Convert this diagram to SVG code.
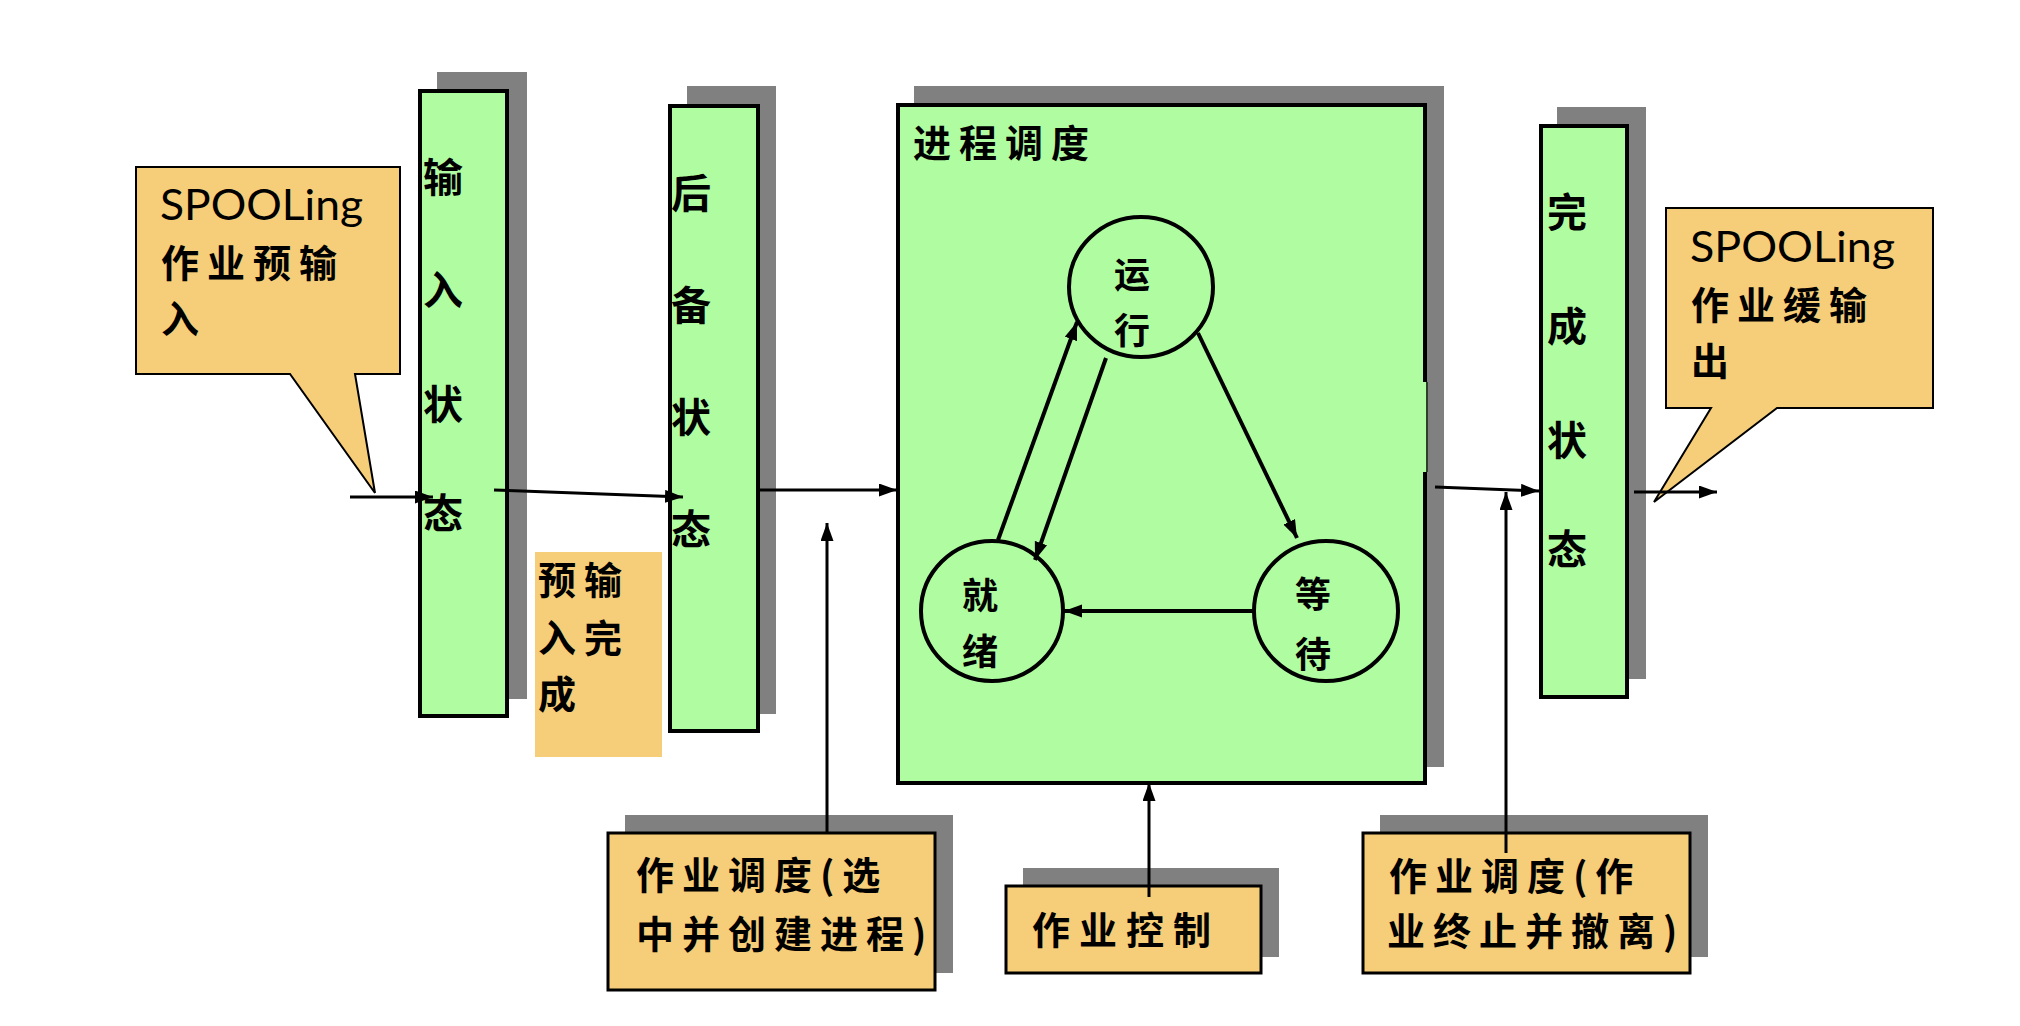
<svg xmlns="http://www.w3.org/2000/svg" width="2020" height="1026" viewBox="0 0 2020 1026">
<style>
.shadow{fill:#808080}
.state{fill:#B0FCA0;stroke:#000;stroke-width:4}
.note{fill:#F6CD78;stroke:#000;stroke-width:3}
.callout{fill:#F6CD78;stroke:#000;stroke-width:2}
.circ{fill:none;stroke:#000;stroke-width:4}
.cjk{font-family:'Noto Sans CJK SC','Noto Sans CJK JP',sans-serif;font-weight:bold;fill:#000}
.v{font-size:40px}
.h{font-size:38px;letter-spacing:8px}
.c{font-size:36px;text-anchor:middle}
.lat{font-family:Lato,'Open Sans',sans-serif;font-size:43px;fill:#000}
.conn{stroke:#000;stroke-width:3;fill:none;marker-end:url(#ah)}
.conn4{stroke:#000;stroke-width:4;fill:none;marker-end:url(#ah)}
</style>
<defs>
<marker id="ah" markerUnits="userSpaceOnUse" markerWidth="20" markerHeight="14" refX="18" refY="6.5" orient="auto">
<path d="M0,0 L18,6.5 L0,13 Z" fill="#000"/>
</marker>
</defs>
<rect width="2020" height="1026" fill="#fff"/>

<g id="callout-in">
<path class="callout" d="M136,167 H400 V374 H355 L375,493 L290,374 H136 Z"/>
<text class="lat" x="160" y="220" textLength="203" lengthAdjust="spacingAndGlyphs">SPOOLing</text>
<text class="cjk h" x="161" y="277">作业预输</text>
<text class="cjk h" x="161" y="333">入</text>
</g>

<g id="input-state">
<rect class="shadow" x="437" y="72" width="90" height="627"/>
<rect class="state" x="420" y="91" width="87" height="625"/>
<text class="cjk v" x="423" y="192">输</text>
<text class="cjk v" x="423" y="305">入</text>
<text class="cjk v" x="423" y="419">状</text>
<text class="cjk v" x="423" y="528">态</text>
</g>

<g id="pre-input-done">
<rect x="535" y="552" width="127" height="205" fill="#F6CD78"/>
<text class="cjk h" x="538" y="594">预输</text>
<text class="cjk h" x="538" y="652">入完</text>
<text class="cjk h" x="538" y="708">成</text>
</g>

<g id="standby-state">
<rect class="shadow" x="687" y="86" width="89" height="628"/>
<rect class="state" x="670" y="106" width="88" height="625"/>
<text class="cjk v" x="671" y="208">后</text>
<text class="cjk v" x="671" y="320">备</text>
<text class="cjk v" x="671" y="432">状</text>
<text class="cjk v" x="671" y="544">态</text>
</g>

<g id="process-scheduling">
<rect class="shadow" x="914" y="86" width="530" height="681"/>
<rect class="state" x="898" y="105" width="527" height="678"/>
<rect x="1421" y="382" width="7" height="90" fill="#B0FCA0"/>
<line x1="1427" y1="382" x2="1427" y2="472" stroke="#000" stroke-width="1.5"/>
<text class="cjk h" x="913" y="157">进程调度</text>
</g>

<g id="running">
<ellipse class="circ" cx="1141" cy="287" rx="72" ry="70"/>
<text class="cjk c" x="1132" y="288">运</text>
<text class="cjk c" x="1132" y="344">行</text>
</g>

<g id="ready">
<ellipse class="circ" cx="992" cy="611" rx="71" ry="70"/>
<text class="cjk c" x="980" y="609">就</text>
<text class="cjk c" x="980" y="665">绪</text>
</g>

<g id="waiting">
<ellipse class="circ" cx="1326" cy="611" rx="72" ry="70"/>
<text class="cjk c" x="1313" y="608">等</text>
<text class="cjk c" x="1313" y="668">待</text>
</g>

<g id="finished-state">
<rect class="shadow" x="1557" y="107" width="89" height="572"/>
<rect class="state" x="1541" y="126" width="86" height="571"/>
<text class="cjk v" x="1547" y="227">完</text>
<text class="cjk v" x="1547" y="341">成</text>
<text class="cjk v" x="1547" y="455">状</text>
<text class="cjk v" x="1547" y="564">态</text>
</g>

<g id="callout-out">
<path class="callout" d="M1666,208 H1933 V408 H1777 L1654,502 L1711,408 H1666 Z"/>
<text class="lat" x="1690" y="262" textLength="205" lengthAdjust="spacingAndGlyphs">SPOOLing</text>
<text class="cjk h" x="1691" y="319">作业缓输</text>
<text class="cjk h" x="1691" y="375">出</text>
</g>

<g id="job-scheduling-create">
<rect class="shadow" x="625" y="815" width="328" height="158"/>
<rect class="note" x="608" y="833" width="327" height="157"/>
<text class="cjk h" x="636" y="889">作业调度(选</text>
<text class="cjk h" x="636" y="948">中并创建进程)</text>
</g>

<g id="job-control">
<rect class="shadow" x="1023" y="868" width="256" height="89"/>
<rect class="note" x="1006" y="886" width="255" height="87"/>
<text class="cjk h" x="1032" y="944" style="letter-spacing:9px">作业控制</text>
</g>

<g id="job-scheduling-terminate">
<rect class="shadow" x="1380" y="815" width="328" height="142"/>
<rect class="note" x="1363" y="833" width="327" height="140"/>
<text class="cjk h" x="1389" y="890">作业调度(作</text>
<text class="cjk h" x="1387" y="945">业终止并撤离)</text>
</g>

<g id="connectors">
<path class="conn" d="M350,497 L433,497"/>
<path class="conn" d="M494,490 L683,497"/>
<path class="conn" d="M758,490 L897,490"/>
<path class="conn" d="M1435,487 L1539,491"/>
<path class="conn" d="M1634,492 L1717,492"/>
<path class="conn" d="M827,833 L827,523"/>
<path class="conn" d="M1149,897 L1149,783"/>
<path class="conn" d="M1506,853 L1506,492"/>
<path class="conn4" d="M998,540 L1077,322"/>
<path class="conn4" d="M1106,358 L1035,560"/>
<path class="conn4" d="M1198,333 L1297,538"/>
<path class="conn4" d="M1254,611 L1064,611"/>
</g>
</svg>
